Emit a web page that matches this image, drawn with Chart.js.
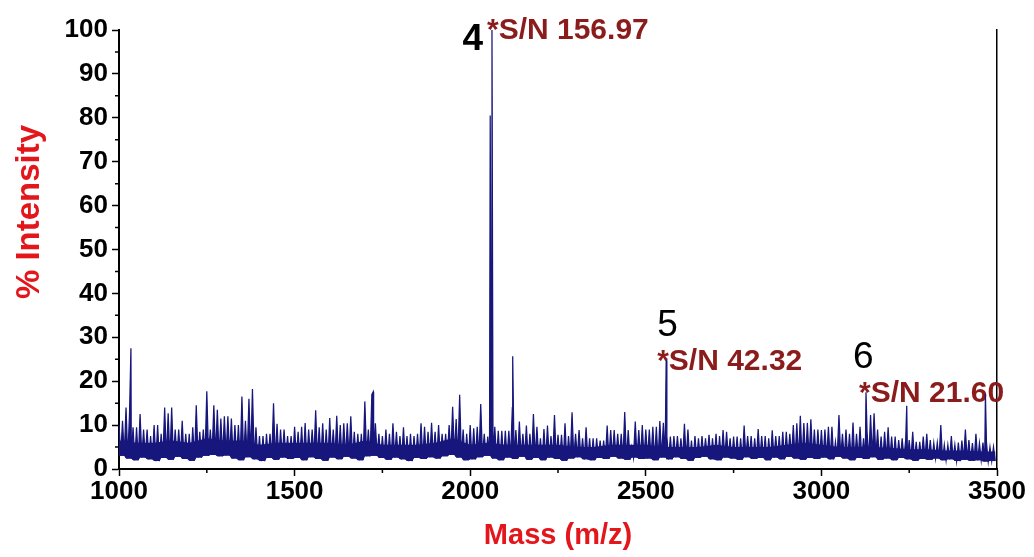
<!DOCTYPE html>
<html>
<head>
<meta charset="utf-8">
<script src="https://cdn.jsdelivr.net/npm/chart.js@4.4.1/dist/chart.umd.min.js"></script>
<style>
html, body { margin: 0; padding: 0; background: #fff; }
#wrap { width: 1034px; height: 557px; position: relative; }
</style>
</head>
<body>
<div id="wrap"><canvas id="spectrum"></canvas></div>
<script>
// upper envelope of the noise, one value per 10 m/z
const upper1000 = [10, 11, 14, 12.7, 9.5, 9.5, 12.5, 9, 9, 7.5,
  10, 10, 8, 14, 12.7, 14, 9, 9, 11, 8,
  8, 9.5, 14.5, 8.5, 9, 17.7, 9, 14.5, 13.5, 11.5,
  12, 12, 11.5, 10, 10, 16.5, 11, 16, 18.2, 9.5,
  7.5, 7.5, 8, 8, 15, 10.3, 9, 9, 7.5, 7.5];
const upper1500 = [9.6, 8.5, 9.6, 10.5, 9, 9, 13.4, 9.5, 10.4, 9,
  11.6, 9, 12.1, 10, 10.4, 10.4, 12, 8.5, 8, 8,
  15.4, 9, 17, 10.4, 8, 7.5, 9, 8, 10.4, 8.5,
  7.5, 9.5, 7.5, 8, 7.5, 8, 10.4, 9.6, 8.5, 10.5,
  8.5, 10, 8, 8, 10, 14.2, 11.4, 16.9, 9, 8];
const upper2000 = [10, 9.3, 9.6, 14.8, 8, 7.4, 9, 9.6, 8.7, 8.7,
  8.7, 8.7, 14, 8.9, 10.8, 8, 9.9, 8, 12.5, 9.6,
  7, 9.1, 9.9, 7.5, 12.3, 7.8, 7.8, 10.4, 7.5, 12.9,
  8, 8.9, 7, 9.5, 7, 7, 7, 6.5, 6.5, 9.9,
  8.9, 8.9, 8, 8, 13, 8.9, 5, 10.8, 8.9, 10];
const upper2500 = [9, 9, 9.6, 9.6, 10.9, 10.5, 7.4, 7.4, 7.5, 7.5,
  7, 10.3, 9, 6.5, 7.5, 7, 7.5, 7, 7.8, 7,
  8, 7.5, 8.9, 8.5, 7, 7.4, 7.4, 7, 9.9, 7.5,
  7.5, 7, 9.1, 7.5, 7.5, 7, 8.8, 7.5, 7.5, 8.5,
  8.5, 8, 10, 10.4, 12.1, 10.5, 10.5, 11.3, 9, 9];
const upper3000 = [8.9, 9, 9.6, 9.6, 6.2, 12.3, 8, 9, 8, 10.6,
  8, 9.6, 7, 8.5, 12.3, 12.7, 9, 7.4, 8.5, 9.5,
  7.4, 7.4, 6.6, 7, 6.6, 6.6, 8.5, 6.2, 6.2, 7.4,
  8, 6.6, 5.9, 6, 10, 5.5, 5.5, 7.5, 5.5, 6,
  6.5, 9, 6.6, 5.9, 8, 5.9, 6, 6, 5, 5];

// lower edge of the noise, one value per 20 m/z
const lows1000 = [3.0, 2.4, 2.0, 2.6, 2.2, 1.8, 2.5, 2.1, 2.8, 2.3, 1.9, 2.6, 3.0, 3.2, 2.9, 3.1, 2.4, 2.0, 2.7, 2.2, 1.8, 2.5, 2.1, 2.6, 2.3];
const lows1500 = [2.5, 2.0, 2.7, 2.3, 1.9, 2.6, 2.2, 2.8, 2.4, 2.0, 2.9, 3.0, 2.5, 2.1, 2.6, 2.2, 1.8, 2.5, 2.3, 2.7, 2.4, 2.9, 3.2, 2.6, 2.0];
const lows2000 = [2.2, 2.7, 3.0, 2.4, 2.0, 2.6, 2.3, 2.8, 2.1, 2.5, 2.0, 2.6, 2.3, 1.9, 2.4, 2.7, 2.2, 2.0, 2.5, 2.3, 2.8, 2.4, 2.1, 2.6, 2.3];
const lows2500 = [2.4, 2.0, 2.6, 2.2, 2.7, 2.3, 1.9, 2.5, 2.8, 2.2, 2.0, 2.6, 2.4, 2.1, 2.7, 2.3, 2.5, 2.0, 2.6, 2.2, 2.8, 2.4, 2.1, 2.5, 2.3];
const lows3000 = [2.6, 2.2, 2.8, 2.4, 2.0, 2.5, 2.3, 2.7, 2.1, 2.4, 2.0, 2.5, 2.2, 1.9, 2.3, 2.1, 2.4, 2.0, 2.2, 1.8, 2.1, 1.9, 2.0, 1.7, 1.8];

// top of the solid part of the noise band, one value per 50 m/z (1000..3500)
const bandTop = [6.5, 6, 6, 6.5, 6, 7, 6.5, 6.5, 5.5, 6,
  6, 6, 6, 5.5, 6.5, 5.5, 5.5, 5.5, 6, 7,
  5.5, 6, 5.5, 5.5, 5.5, 5.5, 5, 5, 5.5, 5.5,
  5.5, 5, 5, 5, 5.5, 5, 5, 5, 5.5, 6,
  5.5, 5, 5, 5, 4.8, 4.5, 4.5, 4.2, 4.2, 4, 4];

// peaks standing out of the noise
const peakMz = [1034, 1724, 2057, 2062, 2121, 2558, 3127, 3243, 3467];
const peakIntensity = [27.5, 17.6, 80.5, 100, 25.7, 24.8, 17.5, 14.4, 17];

// labelled peaks
const labelMz = [2062, 2558, 3127];
const labelNumbers = ['4', '5', '6'];
const labelSN = ['*S/N 156.97', '*S/N 42.32', '*S/N 21.60'];

const xTicks = [1000, 1500, 2000, 2500, 3000, 3500];

// pixel offsets / weight of the label texts relative to the peak top
const labelStyles = [
  { numDx: -9, numDy: 20, numAlign: 'right', numWeight: 'bold', snDx: -5, snDy: 9 },
  { numDx: -9, numDy: -24, numAlign: 'left', numWeight: 'normal', snDx: -9, snDy: 10 },
  { numDx: -13, numDy: -24, numAlign: 'left', numWeight: 'normal', snDx: -7, snDy: 10 }
];

const upper = [...upper1000, ...upper1500, ...upper2000, ...upper2500, ...upper3000];
const lows = [...lows1000, ...lows1500, ...lows2000, ...lows2500, ...lows3000];

const points = [];
upper.forEach((u, i) => {
  const m = 1000 + i * 10;
  const lo = lows[Math.floor(i / 2)];
  points.push({ x: m, y: u, lo });
  points.push({ x: m + 5, y: lo, lo });
});
peakMz.forEach((m, k) => {
  points.push({ x: m, y: peakIntensity[k], lo: lows[Math.floor((m - 1000) / 20)] });
});
points.sort((a, b) => a.x - b.x);

const NAVY = '#16167c';
const RED = '#e3161c';
const DARKRED = '#8b1c1c';
const FONT = '"Liberation Sans", Arial, sans-serif';

Chart.defaults.font.family = FONT;
Chart.defaults.color = '#000';

const overlay = {
  id: 'overlay',
  beforeDatasetsDraw(chart) {
    const { ctx, scales: { x, y } } = chart;
    ctx.save();
    labelMz.forEach((m, k) => {
      const idx = peakMz.indexOf(m);
      const px = x.getPixelForValue(m);
      const py = y.getPixelForValue(peakIntensity[idx]);
      const s = labelStyles[k];
      ctx.textBaseline = 'alphabetic';
      ctx.font = s.numWeight + ' 37px ' + FONT;
      ctx.fillStyle = '#000';
      ctx.textAlign = s.numAlign;
      ctx.fillText(labelNumbers[k], px + s.numDx, py + s.numDy);
      ctx.font = 'bold 30px ' + FONT;
      ctx.fillStyle = DARKRED;
      ctx.textAlign = 'left';
      ctx.fillText(labelSN[k], px + s.snDx, py + s.snDy);
    });
    ctx.restore();
  },
  afterDraw(chart) {
    const { ctx, scales: { x, y }, chartArea } = chart;
    ctx.save();
    // minor ticks
    ctx.strokeStyle = '#000';
    ctx.lineWidth = 1.5;
    ctx.beginPath();
    for (let v = 5; v < 100; v += 10) {
      const py = y.getPixelForValue(v);
      ctx.moveTo(chartArea.left - 4, py);
      ctx.lineTo(chartArea.left, py);
    }
    for (let v = 1250; v < 3500; v += 500) {
      const px = x.getPixelForValue(v);
      ctx.moveTo(px, chartArea.bottom);
      ctx.lineTo(px, chartArea.bottom + 4);
    }
    ctx.stroke();
    // y title
    ctx.translate(30, 212);
    ctx.rotate(-Math.PI / 2);
    ctx.font = 'bold 33px ' + FONT;
    ctx.fillStyle = RED;
    ctx.textAlign = 'center';
    ctx.textBaseline = 'middle';
    ctx.fillText('% Intensity', 0, 0);
    ctx.restore();
  }
};

new Chart(document.getElementById('spectrum'), {
  type: 'line',
  data: {
    datasets: [
      {
        label: 'base',
        data: points.map(p => ({ x: p.x, y: p.lo })),
        borderWidth: 0,
        borderColor: 'rgba(0,0,0,0)',
        pointRadius: 0,
        fill: false
      },
      {
        label: 'band',
        data: bandTop.map((v, i) => ({ x: 1000 + i * 50, y: v })),
        borderWidth: 0,
        borderColor: 'rgba(0,0,0,0)',
        backgroundColor: NAVY,
        pointRadius: 0,
        fill: '-1'
      },
      {
        label: 'spectrum',
        data: points.map(p => ({ x: p.x, y: p.y })),
        borderColor: NAVY,
        backgroundColor: NAVY,
        borderWidth: 1.25,
        pointRadius: 0,
        tension: 0,
        fill: '-2'
      }
    ]
  },
  options: {
    responsive: true,
    maintainAspectRatio: false,
    animation: false,
    parsing: false,
    layout: { padding: { top: 30, left: 0, right: 0, bottom: 0 } },
    plugins: {
      legend: { display: false },
      tooltip: { enabled: false }
    },
    scales: {
      x: {
        type: 'linear',
        min: 1000,
        max: 3500,
        afterBuildTicks: scale => { scale.ticks = xTicks.map(v => ({ value: v })); },
        afterFit: scale => { scale.height = 88; },
        ticks: { font: { size: 26, weight: 'bold' }, color: '#000', padding: 0, maxRotation: 0, callback: v => String(v) },
        grid: { drawOnChartArea: false, drawTicks: true, tickLength: 7, tickColor: '#000', tickWidth: 1.5 },
        border: { display: true, color: '#000', width: 2 },
        title: { display: true, text: 'Mass (m/z)', color: RED, font: { size: 29, weight: 'bold' }, padding: { top: 0, bottom: 4 } }
      },
      y: {
        min: 0,
        max: 100,
        afterFit: scale => { scale.width = 119; },
        ticks: { stepSize: 10, font: { size: 26, weight: 'bold' }, color: '#000', padding: 4 },
        grid: { drawOnChartArea: false, drawTicks: true, tickLength: 7, tickColor: '#000', tickWidth: 1.5 },
        border: { display: true, color: '#000', width: 2 }
      },
      yR: {
        position: 'right',
        min: 0,
        max: 100,
        afterFit: scale => { scale.width = 37; },
        ticks: { display: false },
        grid: { display: false, drawTicks: false },
        border: { display: true, color: '#000', width: 1.5 }
      }
    }
  },
  plugins: [overlay]
});
</script>
</body>
</html>
